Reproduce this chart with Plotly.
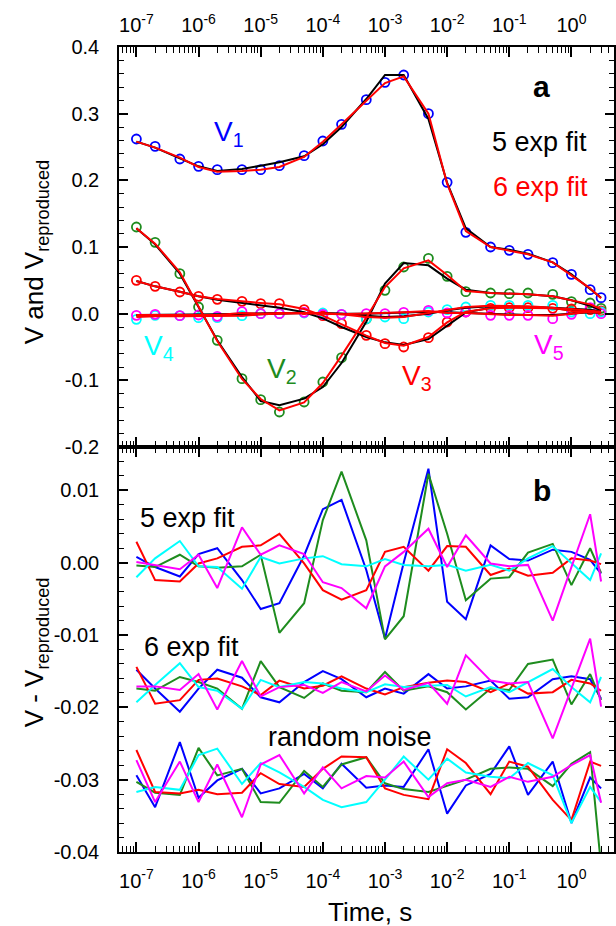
import math
import plotly.graph_objects as go

# ---------------- data ----------------
time_s = [1e-7, 2e-7, 5e-7, 1e-6, 2e-6, 5e-6, 1e-5, 2e-5, 5e-5, 1e-4, 2e-4, 5e-4,
          1e-3, 2e-3, 5e-3, 1e-2, 2e-2, 5e-2, 0.1, 0.2, 0.5, 1.0, 2.0, 3.0]

# measured components
v1 = [0.262, 0.251, 0.232, 0.221, 0.216, 0.216, 0.216, 0.222, 0.237, 0.259, 0.284, 0.321,
      0.347, 0.358, 0.300, 0.197, 0.122, 0.100, 0.095, 0.089, 0.0765, 0.059, 0.036, 0.024]
v2 = [0.130, 0.107, 0.060, 0.010, -0.040, -0.0975, -0.129, -0.1475, -0.1325, -0.1025, -0.066, -0.008,
      0.035, 0.070, 0.083, 0.056, 0.033, 0.031, 0.030, 0.031, 0.029, 0.018, 0.016, 0.008]
v3 = [0.050, 0.041, 0.0325, 0.026, 0.0215, 0.0185, 0.015, 0.015, 0.006, -0.003, -0.015, -0.0325,
      -0.045, -0.050, -0.036, -0.0125, 0.0025, 0.008, 0.009, 0.009, 0.008, 0.007, 0.006, 0.004]
v4 = [-0.0085, -0.0025, -0.003, -0.006, -0.006, -0.003, 0.000, 0.000, 0.001, 0.001, -0.001, -0.0075,
      -0.005, -0.0075, 0.0025, 0.006, 0.010, 0.0125, 0.0125, 0.0125, 0.0125, 0.0025, 0.000, 0.0025]
v5 = [-0.0025, -0.001, -0.003, -0.002, -0.004, 0.003, 0.000, 0.000, 0.002, -0.001, -0.001, 0.000,
      0.000, 0.002, 0.005, 0.001, 0.0025, -0.0025, -0.0025, -0.0025, -0.0075, -0.001, 0.009, 0.000]

# reproduced with 5 exponentials
fit5_v1 = [0.258, 0.249, 0.233, 0.221, 0.214, 0.217, 0.222, 0.227, 0.236, 0.254, 0.280, 0.322,
           0.358, 0.358, 0.292, 0.196, 0.128, 0.100, 0.096, 0.090, 0.077, 0.059, 0.037, 0.024]
fit5_v2 = [0.128, 0.104, 0.060, 0.011, -0.040, -0.095, -0.131, -0.1375, -0.1275, -0.110, -0.074, -0.012,
           0.045, 0.076, 0.0725, 0.0525, 0.036, 0.031, 0.030, 0.029, 0.026, 0.020, 0.012, 0.005]
fit5_v3 = [0.049, 0.041, 0.033, 0.026, 0.021, 0.016, 0.012, 0.009, 0.002, -0.007, -0.020, -0.035,
           -0.043, -0.047, -0.038, -0.018, 0.002, 0.009, 0.010, 0.010, 0.009, 0.008, 0.006, 0.003]
fit5_v4 = [-0.003, -0.003, -0.003, -0.003, -0.003, -0.002, -0.001, 0.000, 0.001, 0.001, 0.000, -0.003,
           -0.005, -0.004, 0.000, 0.005, 0.009, 0.011, 0.011, 0.010, 0.008, 0.005, 0.003, 0.002]
fit5_v5 = [-0.002, -0.002, -0.002, -0.002, -0.001, 0.000, 0.001, 0.001, 0.001, 0.000, 0.000, 0.000,
           0.001, 0.002, 0.003, 0.002, 0.001, -0.001, -0.002, -0.002, -0.002, 0.000, 0.002, 0.001]

# reproduced with 6 exponentials
fit6_v1 = [0.258, 0.249, 0.234, 0.220, 0.213, 0.214, 0.216, 0.220, 0.235, 0.258, 0.284, 0.320,
           0.346, 0.356, 0.300, 0.195, 0.124, 0.100, 0.095, 0.089, 0.077, 0.058, 0.038, 0.023]
fit6_v2 = [0.128, 0.105, 0.062, 0.010, -0.041, -0.098, -0.128, -0.145, -0.133, -0.104, -0.063, -0.006,
           0.040, 0.068, 0.080, 0.058, 0.034, 0.031, 0.030, 0.029, 0.026, 0.020, 0.014, 0.007]
fit6_v3 = [0.049, 0.041, 0.033, 0.026, 0.022, 0.018, 0.016, 0.014, 0.007, -0.003, -0.016, -0.033,
           -0.044, -0.048, -0.035, -0.013, 0.003, 0.008, 0.009, 0.009, 0.008, 0.007, 0.005, 0.003]
fit6_v4 = [-0.005, -0.004, -0.004, -0.004, -0.004, -0.003, -0.001, 0.000, 0.001, 0.001, -0.001, -0.005,
           -0.006, -0.005, 0.001, 0.006, 0.010, 0.012, 0.012, 0.011, 0.009, 0.004, 0.002, 0.002]
fit6_v5 = [-0.002, -0.002, -0.002, -0.002, -0.002, 0.001, 0.000, 0.001, 0.001, 0.000, -0.001, 0.000,
           0.001, 0.002, 0.004, 0.001, 0.001, -0.001, -0.002, -0.002, -0.003, 0.000, 0.003, 0.001]

# residuals V - V_reproduced (5 exp fit, plotted around 0)
res5_v1 = [0.0008, -0.0006, -0.0019, 0.0012, 0.0020, -0.0024, -0.0064, -0.0056, 0.0010, 0.0074, 0.0087, -0.0010,
           -0.0105, 0.0000, 0.0130, -0.0054, -0.0078, 0.0024, 0.0005, 0.0003, 0.0018, 0.0015, 0.0004, -0.0015]
res5_v2 = [-0.0004, -0.0006, 0.0011, -0.0005, -0.0007, -0.0005, 0.0011, -0.0097, -0.0056, 0.0059, 0.0126, 0.0031,
           -0.0106, -0.0074, 0.0123, 0.0040, -0.0052, -0.0022, -0.0020, 0.0014, 0.0026, -0.0031, 0.0020, -0.0014]
res5_v3 = [0.0029, -0.0024, -0.0026, -0.0001, 0.0006, 0.0022, 0.0024, 0.0040, -0.0001, -0.0038, -0.0051, -0.0038,
           0.0015, 0.0022, -0.0011, 0.0023, 0.0022, -0.0017, -0.0008, -0.0018, -0.0014, 0.0006, 0.0003, -0.0002]
res5_v4 = [-0.0020, 0.0006, 0.0030, -0.0005, -0.0006, -0.0036, 0.0008, -0.0001, 0.0006, 0.0009, -0.0002, -0.0005,
           0.0005, -0.0003, -0.0005, -0.0003, -0.0011, -0.0003, -0.0011, 0.0006, 0.0023, -0.0001, -0.0024, 0.0013]
res5_v5 = [0.0001, -0.0003, -0.0009, 0.0011, -0.0035, 0.0049, 0.0011, 0.0024, 0.0012, -0.0027, -0.0035, -0.0063,
           -0.0005, 0.0015, 0.0047, -0.0006, 0.0038, -0.0001, -0.0005, -0.0003, -0.0080, -0.0006, 0.0067, -0.0026]

# residuals (6 exp fit, plotted around -0.017)
res6_v1 = [-0.0148, -0.0174, -0.0206, -0.0174, -0.0148, -0.0159, -0.0186, -0.0193, -0.0165, -0.0150, -0.0161, -0.0186,
           -0.0174, -0.0181, -0.0154, -0.0174, -0.0171, -0.0163, -0.0188, -0.0186, -0.0161, -0.0157, -0.0161, -0.0188]
res6_v2 = [-0.0174, -0.0177, -0.0158, -0.0165, -0.0174, -0.0202, -0.0136, -0.0172, -0.0187, -0.0167, -0.0177, -0.0179,
           -0.0151, -0.0177, -0.0171, -0.0179, -0.0203, -0.0174, -0.0176, -0.0140, -0.0134, -0.0196, -0.0154, -0.0190]
res6_v3 = [-0.0144, -0.0195, -0.0190, -0.0162, -0.0160, -0.0171, -0.0183, -0.0163, -0.0174, -0.0170, -0.0157, -0.0174,
           -0.0182, -0.0172, -0.0166, -0.0163, -0.0165, -0.0179, -0.0167, -0.0181, -0.0179, -0.0162, -0.0167, -0.0177]
res6_v4 = [-0.0193, -0.0169, -0.0139, -0.0172, -0.0177, -0.0202, -0.0162, -0.0172, -0.0165, -0.0167, -0.0174, -0.0179,
           -0.0168, -0.0172, -0.0170, -0.0169, -0.0185, -0.0172, -0.0179, -0.0165, -0.0147, -0.0172, -0.0193, -0.0158]
res6_v5 = [-0.0171, -0.0171, -0.0176, -0.0154, -0.0203, -0.0136, -0.0185, -0.0172, -0.0169, -0.0180, -0.0165, -0.0178,
           -0.0156, -0.0176, -0.0166, -0.0195, -0.0128, -0.0163, -0.0167, -0.0165, -0.0243, -0.0174, -0.0105, -0.0199]

# random noise of the same amplitude (plotted around -0.03)
noise_v1 = [-0.0294, -0.0338, -0.0248, -0.0325, -0.0301, -0.0285, -0.0319, -0.0312, -0.0292, -0.0312, -0.0278, -0.0311,
            -0.0308, -0.0310, -0.0258, -0.0347, -0.0308, -0.0292, -0.0254, -0.0321, -0.0275, -0.0360, -0.0297, -0.0312]
noise_v2 = [-0.0303, -0.0318, -0.0321, -0.0256, -0.0294, -0.0285, -0.0331, -0.0332, -0.0288, -0.0310, -0.0279, -0.0269,
            -0.0305, -0.0313, -0.0317, -0.0308, -0.0300, -0.0285, -0.0283, -0.0285, -0.0309, -0.0278, -0.0262, -0.0420]
noise_v3 = [-0.0259, -0.0317, -0.0319, -0.0314, -0.0320, -0.0318, -0.0291, -0.0306, -0.0310, -0.0285, -0.0268, -0.0269,
            -0.0312, -0.0321, -0.0327, -0.0258, -0.0277, -0.0320, -0.0275, -0.0282, -0.0328, -0.0356, -0.0275, -0.0281]
noise_v4 = [-0.0317, -0.0310, -0.0314, -0.0266, -0.0257, -0.0306, -0.0277, -0.0290, -0.0310, -0.0328, -0.0338, -0.0331,
            -0.0300, -0.0268, -0.0300, -0.0271, -0.0290, -0.0296, -0.0298, -0.0277, -0.0294, -0.0360, -0.0310, -0.0331]
noise_v5 = [-0.0273, -0.0331, -0.0275, -0.0331, -0.0279, -0.0352, -0.0279, -0.0266, -0.0319, -0.0283, -0.0312, -0.0295,
            -0.0297, -0.0275, -0.0324, -0.0305, -0.0300, -0.0310, -0.0296, -0.0303, -0.0296, -0.0280, -0.0266, -0.0332]

# axis ticks
x_tick_vals = [1e-7, 1e-6, 1e-5, 1e-4, 1e-3, 1e-2, 1e-1, 1.0]
x_tick_text = ["10<sup>-7</sup>", "10<sup>-6</sup>", "10<sup>-5</sup>", "10<sup>-4</sup>",
               "10<sup>-3</sup>", "10<sup>-2</sup>", "10<sup>-1</sup>", "10<sup>0</sup>"]
y_top_vals = [-0.2, -0.1, 0.0, 0.1, 0.2, 0.3, 0.4]
y_top_text = ["-0.2", "-0.1", "0.0", "0.1", "0.2", "0.3", "0.4"]
y_bot_vals = [-0.04, -0.03, -0.02, -0.01, 0.0, 0.01]
y_bot_text = ["-0.04", "-0.03", "-0.02", "-0.01", "0.00", "0.01"]

# ---------------- styling ----------------
BLUE, GREEN, RED, CYAN, MAGENTA, BLACK = "#0000ff", "#1e8c1e", "#ff0000", "#00ffff", "#ff00ff", "#000000"
FONT = "Liberation Sans, Arial, sans-serif"

W, H = 616, 926
L, R, T, B = 119, 0, 47, 74
PW, PH = W - L - R, H - T - B
SPLIT = 0.5031  # fraction of plot height taken by the lower panel
X_RANGE = [-7.28, 0.685]


def px(x):
    return (x - L) / PW


def py(y):
    return (H - B - y) / PH


minor_x = [m * 10.0 ** e for e in range(-8, 1) for m in range(2, 10)
           if X_RANGE[0] < e + math.log10(m) < X_RANGE[1]]
minor_y_top = [round(-0.2 + 0.02 * i, 3) for i in range(31)]
minor_y_bot = [round(-0.04 + 0.002 * i, 4) for i in range(29)]

fig = go.Figure()

components = [v1, v2, v3, v4, v5]
colors = [BLUE, GREEN, RED, CYAN, MAGENTA]
fits5 = [fit5_v1, fit5_v2, fit5_v3, fit5_v4, fit5_v5]
fits6 = [fit6_v1, fit6_v2, fit6_v3, fit6_v4, fit6_v5]

for vals, col in zip(components, colors):
    fig.add_trace(go.Scatter(x=time_s, y=vals, mode="markers", xaxis="x", yaxis="y",
                             marker=dict(symbol="circle-open", size=9, color=col,
                                         line=dict(width=1.8, color=col)),
                             showlegend=False))
for vals in fits5:
    fig.add_trace(go.Scatter(x=time_s, y=vals, mode="lines", xaxis="x", yaxis="y",
                             line=dict(color=BLACK, width=2), showlegend=False))
for vals in fits6:
    fig.add_trace(go.Scatter(x=time_s, y=vals, mode="lines", xaxis="x", yaxis="y",
                             line=dict(color=RED, width=2), showlegend=False))

groups = [
    [res5_v1, res5_v2, res5_v3, res5_v4, res5_v5],
    [res6_v1, res6_v2, res6_v3, res6_v4, res6_v5],
    [noise_v1, noise_v2, noise_v3, noise_v4, noise_v5],
]
for grp in groups:
    for vals, col in zip(grp, colors):
        fig.add_trace(go.Scatter(x=time_s, y=vals, mode="lines", xaxis="x2", yaxis="y2",
                                 line=dict(color=col, width=2), showlegend=False))

xcommon = dict(type="log", range=X_RANGE, tickvals=x_tick_vals, ticktext=x_tick_text,
               ticks="inside", ticklen=10, tickwidth=1.5, tickcolor=BLACK,
               minor=dict(tickvals=minor_x, ticks="inside", ticklen=6, tickwidth=1.2, tickcolor=BLACK),
               showline=True, linewidth=1.5, linecolor=BLACK, mirror="ticks",
               showgrid=False, zeroline=False, tickfont=dict(size=20, color=BLACK))
ycommon = dict(ticks="inside", ticklen=9, tickwidth=1.5, tickcolor=BLACK,
               showline=True, linewidth=1.5, linecolor=BLACK, mirror="ticks",
               showgrid=False, zeroline=False, tickfont=dict(size=20, color=BLACK),
               ticklabelstandoff=14)

fig.update_layout(
    width=W, height=H,
    margin=dict(l=L, r=R, t=T, b=B),
    paper_bgcolor="white", plot_bgcolor="white",
    font=dict(family=FONT, color=BLACK),
    xaxis=dict(domain=[0, 1], anchor="y", side="top", ticklabelstandoff=5, **xcommon),
    xaxis2=dict(domain=[0, 1], anchor="y2", side="bottom", matches="x", ticklabelstandoff=10, **xcommon),
    yaxis=dict(domain=[SPLIT, 1], anchor="x", range=[-0.2, 0.4],
               tickvals=y_top_vals, ticktext=y_top_text,
               minor=dict(tickvals=minor_y_top, ticks="inside", ticklen=5, tickwidth=1.2, tickcolor=BLACK),
               **ycommon),
    yaxis2=dict(domain=[0, SPLIT], anchor="x2", range=[-0.04, 0.016],
                tickvals=y_bot_vals, ticktext=y_bot_text,
                minor=dict(tickvals=minor_y_bot, ticks="inside", ticklen=5, tickwidth=1.2, tickcolor=BLACK),
                **ycommon),
)


def label(text, x, y, color=BLACK, size=27, bold=False, angle=0):
    if bold:
        text = "<b>" + text + "</b>"
    fig.add_annotation(text=text, x=px(x), y=py(y), xref="paper", yref="paper",
                       showarrow=False, xanchor="center", yanchor="middle",
                       textangle=angle, font=dict(size=size, color=color, family=FONT))


label("a", 543, 87, size=30, bold=True)
label("5 exp fit", 541, 142)
label("6 exp fit", 542, 187, color=RED)
label("V<sub>1</sub>", 229, 133, color=BLUE, size=28)
label("V<sub>2</sub>", 283, 371, color=GREEN, size=28)
label("V<sub>3</sub>", 418, 377, color=RED, size=28)
label("V<sub>4</sub>", 159, 347, color=CYAN, size=28)
label("V<sub>5</sub>", 551, 346, color=MAGENTA, size=28)

label("b", 544, 490, size=30, bold=True)
label("5 exp fit", 188, 518)
label("6 exp fit", 192, 647)
label("random noise", 351, 737)

label("Time, s", 371, 912, size=26)
label("V and V<sub>reproduced</sub>", 35, 252, size=26, angle=-90)
label("V - V<sub>reproduced</sub>", 35, 652, size=26, angle=-90)

fig.write_html("out.html")
